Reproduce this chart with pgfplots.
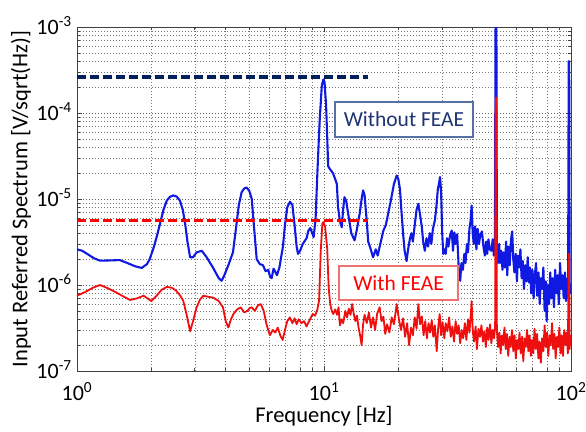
\documentclass[border=0pt]{standalone}
\usepackage{fontspec}
\setmainfont{Carlito}
\usepackage{pgfplots}
\pgfplotsset{compat=1.18}
\definecolor{navy}{RGB}{0,32,96}
\definecolor{txtnavy}{RGB}{31,52,115}
\definecolor{boxblue}{RGB}{85,112,165}
\definecolor{boxred}{RGB}{240,115,115}
\definecolor{gridc}{RGB}{95,95,95}
\definecolor{cblue}{RGB}{15,25,225}
\definecolor{cred}{RGB}{240,15,15}
\begin{document}
\begin{tikzpicture}
\path[use as bounding box] (-77pt,-60pt) rectangle (509pt,371pt);
\begin{axis}[
  at={(0pt,0pt)}, anchor=south west,
  scale only axis, width=494pt, height=344pt,
  xmode=log, ymode=log,
  xmin=1, xmax=100, ymin=1e-7, ymax=1e-3,
  xtick={1,10,100},
  xticklabels={10\textsuperscript{0},10\textsuperscript{1},10\textsuperscript{2}},
  ytick={1e-7,1e-6,1e-5,1e-4,1e-3},
  yticklabels={10\textsuperscript{-7},10\textsuperscript{-6},10\textsuperscript{-5},10\textsuperscript{-4},10\textsuperscript{-3}},
  minor xtick={2,3,4,5,6,7,8,9,20,30,40,50,60,70,80,90},
  minor ytick={2e-7,3e-7,4e-7,5e-7,6e-7,7e-7,8e-7,9e-7,2e-6,3e-6,4e-6,5e-6,6e-6,7e-6,8e-6,9e-6,2e-5,3e-5,4e-5,5e-5,6e-5,7e-5,8e-5,9e-5,2e-4,3e-4,4e-4,5e-4,6e-4,7e-4,8e-4,9e-4},
  grid=both,
  major grid style={gridc, line width=0.7pt, dash pattern=on 1pt off 2pt},
  minor grid style={gridc!85, line width=0.6pt, dash pattern=on 1pt off 2pt},
  axis line style={black!75, line width=0.9pt},
  tick align=inside,
  major tick length=5pt, minor tick length=3pt,
  tick style={black!75, line width=0.7pt},
  xticklabel style={font=\fontsize{22}{24}\selectfont, anchor=base, yshift=-29.5pt, inner sep=0pt},
  yticklabel style={font=\fontsize{22}{24}\selectfont, anchor=base east, yshift=-7pt, xshift=-5pt, inner sep=0pt},
  xlabel={Frequency [Hz]},
  ylabel={Input Referred Spectrum [V/sqrt(Hz)]},
  every axis x label/.style={at={(axis description cs:0.5,0)}, anchor=base, yshift=-51.5pt, inner sep=0pt, font=\fontsize{22.5}{26}\selectfont},
  every axis y label/.style={at={(axis description cs:0,0.5)}, xshift=-56pt, rotate=90, anchor=center, inner sep=0pt, font=\fontsize{22.5}{26}\selectfont},
  clip=true,
]
% Without FEAE (blue)
\addplot[cblue, line width=2.1pt, line join=round] table {
1.00 2.6e-6
1.05 2.5e-6
1.10 2.3e-6
1.17 2.05e-6
1.24 1.92e-6
1.35 1.93e-6
1.49 1.95e-6
1.60 1.8e-6
1.72 1.65e-6
1.83 1.58e-6
1.92 1.75e-6
1.97 2.0e-6
2.05 2.8e-6
2.10 3.6e-6
2.17 5.2e-6
2.24 7.5e-6
2.31 9.6e-6
2.38 1.06e-5
2.45 1.1e-5
2.53 1.07e-5
2.61 9.6e-6
2.68 7.5e-6
2.74 5.2e-6
2.80 3.2e-6
2.87 2.1e-6
2.95 2.1e-6
3.05 2.4e-6
3.20 2.5e-6
3.35 2.1e-6
3.55 1.6e-6
3.75 1.2e-6
3.85 1.12e-6
3.95 1.3e-6
4.10 1.7e-6
4.28 2.4e-6
4.40 4.5e-6
4.52 8.5e-6
4.64 1.2e-5
4.76 1.33e-5
4.86 1.36e-5
4.98 1.25e-5
5.10 1.0e-5
5.20 5e-6
5.34 2.0e-6
5.50 1.75e-6
5.66 1.7e-6
5.80 1.45e-6
5.95 1.5e-6
6.05 1.25e-6
6.14 1.2e-6
6.25 1.55e-6
6.33 1.45e-6
6.45 1.3e-6
6.60 1.6e-6
6.82 2.8e-6
6.95 5e-6
7.10 8e-6
7.28 9.3e-6
7.45 8.5e-6
7.60 5e-6
7.75 2.8e-6
7.85 2.3e-6
8.00 2.5e-6
8.20 3.0e-6
8.50 3.5e-6
8.65 4.3e-6
8.80 4.6e-6
9.08 3.6e-6
9.25 6e-6
9.40 2e-5
9.60 8e-5
9.80 2.1e-4
9.94 2.45e-4
10.05 2.3e-4
10.20 1.2e-4
10.40 2.4e-5
10.60 2.2e-5
10.87 2.0e-5
11.10 1.7e-5
11.27 1.5e-5
11.40 8e-6
11.60 5.5e-6
11.80 4.7e-6
11.95 7.5e-6
12.10 1.05e-5
12.30 9.5e-6
12.50 7e-6
12.90 4e-6
13.30 3.3e-6
13.60 4.5e-6
13.95 6.8e-6
14.20 1.0e-5
14.40 1.26e-5
14.60 1.1e-5
14.90 5.5e-6
15.10 3.2e-6
15.40 2.7e-6
15.80 2.1e-6
16.20 2.6e-6
16.50 2.2e-6
16.90 3.0e-6
17.40 4.3e-6
17.80 5e-6
18.20 6.8e-6
18.70 1.0e-5
19.20 1.5e-5
19.70 1.88e-5
20.00 1.7e-5
20.30 1.3e-5
20.60 7e-6
20.90 4e-6
21.20 2.5e-6
21.60 1.9e-6
21.90 2.6e-6
22.30 3.5e-6
22.60 4e-6
22.90 3.2e-6
23.30 5e-6
23.70 7.5e-6
24.10 8.8e-6
24.50 6.5e-6
24.90 4.7e-6
25.20 3.2e-6
25.60 2.5e-6
26.00 3.5e-6
26.40 2.8e-6
26.80 4e-6
27.20 3e-6
27.60 4.5e-6
28.10 5.6e-6
28.50 8e-6
28.90 1.3e-5
29.20 1.5e-5
29.50 1.8e-5
29.80 1.2e-5
30.10 4e-6
30.40 2.3e-6
30.80 2.6e-6
31.10 2.3e-6
31.50 3.5e-6
31.90 2.8e-6
32.40 3.8e-6
32.90 4.3e-6
33.30 2.5e-6
33.70 4.1e-6
34.10 3e-6
34.60 3.9e-6
35.10 1.6e-6
35.60 1.12e-6
36.00 1.8e-6
36.50 1.5e-6
37.00 2.3e-6
37.40 1.8e-6
37.90 3e-6
38.30 2.4e-6
38.80 4.5e-6
39.20 5.5e-6
39.60 8.4e-6
40.00 4e-6
40.40 3e-6
40.90 4.8e-6
41.40 2.6e-6
41.90 4.5e-6
42.40 3e-6
42.90 3.8e-6
43.60 4.2e-6
44.20 2.8e-6
44.80 2.2e-6
45.30 3.2e-6
45.80 2.3e-6
46.30 3.4e-6
46.90 2.6e-6
47.60 2.5e-6
48.20 3.4e-6
48.70 2.2e-6
49.20 3e-6
49.55 3e-3
49.85 3e-3
50.10 2.6e-6
50.60 1.8e-6
51.20 3e-6
51.60 1.8e-6
52.20 2.5e-6
52.80 1.5e-6
53.40 2.4e-6
54.00 1.6e-6
54.60 3.2e-6
55.20 1.3e-6
55.80 2.8e-6
56.50 1.7e-6
57.20 3.4e-6
57.80 4.2e-6
58.40 2e-6
59.00 1.4e-6
59.70 2.3e-6
60.40 1.1e-6
61.00 2.2e-6
61.70 1.6e-6
62.40 2.6e-6
63.10 1.2e-6
63.80 1.9e-6
64.50 0.9e-6
65.30 1.7e-6
66.00 1.1e-6
66.80 2.1e-6
67.50 1.07e-6
68.30 1.6e-6
69.00 0.8e-6
69.80 1.5e-6
70.60 0.7e-6
71.40 1.3e-6
72.20 1.8e-6
73.00 0.75e-6
73.90 1.4e-6
74.70 0.6e-6
75.60 1.2e-6
76.40 0.9e-6
77.30 1.6e-6
78.20 0.5e-6
79.10 1.1e-6
79.70 0.38e-6
80.60 1.0e-6
81.50 0.6e-6
82.40 1.4e-6
83.40 0.7e-6
84.30 1.2e-6
85.30 0.55e-6
86.30 1.5e-6
87.30 0.8e-6
88.30 1.3e-6
89.30 0.6e-6
90.30 1.8e-6
91.30 0.9e-6
92.40 1.3e-6
93.40 0.7e-6
94.50 1.4e-6
95.50 0.65e-6
96.60 1.2e-6
97.30 0.7e-6
97.90 4e-4
98.30 4e-4
98.70 1.1e-6
99.30 0.8e-6
100.00 1.0e-6
};
% With FEAE (red)
\addplot[cred, line width=1.8pt, line join=round] table {
1.00 7.5e-7
1.08 8.3e-7
1.16 9.3e-7
1.24 1.0e-6
1.33 9.2e-7
1.44 8.2e-7
1.55 7.3e-7
1.64 6.7e-7
1.75 7.0e-7
1.86 7.5e-7
1.93 7.0e-7
2.00 6.5e-7
2.10 7.5e-7
2.20 8.8e-7
2.31 9.5e-7
2.42 9.3e-7
2.52 8.6e-7
2.62 7.5e-7
2.69 6.6e-7
2.78 4.5e-7
2.87 2.9e-7
2.95 3.8e-7
3.05 5.5e-7
3.15 6.8e-7
3.25 7.5e-7
3.40 7.3e-7
3.57 7.1e-7
3.75 6.5e-7
3.90 5.5e-7
4.00 3.8e-7
4.10 3.2e-7
4.20 4.0e-7
4.30 4.6e-7
4.45 5.2e-7
4.60 5.5e-7
4.75 4.8e-7
4.90 5.0e-7
5.00 5.4e-7
5.10 5.5e-7
5.25 5.0e-7
5.40 5.8e-7
5.55 6.0e-7
5.70 5.0e-7
5.85 3.5e-7
6.04 2.6e-7
6.20 3.0e-7
6.35 2.8e-7
6.50 3.2e-7
6.65 2.6e-7
6.80 2.3e-7
6.95 3.0e-7
7.10 3.8e-7
7.28 4.2e-7
7.45 3.6e-7
7.60 4.1e-7
7.75 3.5e-7
7.90 4.0e-7
8.10 3.6e-7
8.30 3.8e-7
8.50 3.3e-7
8.70 3.8e-7
9.00 4.6e-7
9.20 4.4e-7
9.40 5.2e-7
9.55 6.5e-7
9.70 2.5e-6
9.85 5.2e-6
9.95 5.4e-6
10.10 4.8e-6
10.30 2.7e-6
10.45 9e-7
10.60 6e-7
10.75 5e-7
10.90 4.6e-7
11.10 5.2e-7
11.30 4.5e-7
11.45 5.5e-7
11.60 3.4e-7
11.80 4e-7
11.96 3.6e-7
12.20 5e-7
12.40 4.2e-7
12.60 5.3e-7
12.80 4.5e-7
13.00 6e-7
13.20 4.6e-7
13.40 3.8e-7
13.60 4.4e-7
13.80 3.2e-7
14.00 2.6e-7
14.20 2.0e-7
14.40 3.5e-7
14.60 4.5e-7
14.90 3.6e-7
15.20 4.8e-7
15.50 3.2e-7
15.80 4.2e-7
16.10 3e-7
16.40 4.6e-7
16.80 5.5e-7
17.10 3.8e-7
17.40 4.3e-7
17.70 2.7e-7
18.00 3.5e-7
18.40 2.8e-7
18.80 4.2e-7
19.20 3.5e-7
19.70 6e-7
20.10 4e-7
20.50 3e-7
20.90 4.1e-7
21.30 2.5e-7
21.70 3.6e-7
22.10 2.0e-7
22.50 3.2e-7
22.90 2.6e-7
23.30 4.2e-7
23.70 3.1e-7
24.10 6e-7
24.50 3.5e-7
24.90 4.3e-7
25.30 2.6e-7
25.70 3.8e-7
26.10 2.4e-7
26.50 3.6e-7
26.90 2.8e-7
27.30 3.9e-7
27.70 2.5e-7
28.10 3.4e-7
28.60 1.7e-7
29.00 3.2e-7
29.40 4.6e-7
29.80 2.6e-7
30.20 3.7e-7
30.70 2.4e-7
31.10 3.6e-7
31.60 2.9e-7
32.10 4.2e-7
32.60 2.5e-7
33.10 3.3e-7
33.60 2.2e-7
34.10 3.8e-7
34.60 2.7e-7
35.10 3.4e-7
35.60 2.1e-7
36.10 3.0e-7
36.60 2.4e-7
37.20 3.6e-7
37.70 2.3e-7
38.30 4.0e-7
38.80 2.8e-7
39.30 4.5e-7
39.60 6.5e-7
40.00 3.0e-7
40.50 2.2e-7
41.10 3.3e-7
41.60 1.8e-7
42.20 3.1e-7
42.80 2.5e-7
43.40 3.4e-7
44.00 2.2e-7
44.60 2.9e-7
45.20 1.9e-7
45.80 3.2e-7
46.40 2.3e-7
47.00 3.5e-7
47.60 2.1e-7
48.20 3.0e-7
48.80 2.4e-7
49.30 3.3e-7
49.55 1.5e-4
49.85 1.5e-4
50.10 3.0e-7
50.70 1.9e-7
51.30 2.8e-7
51.90 1.6e-7
52.50 2.6e-7
53.10 2.0e-7
53.80 3.2e-7
54.40 1.8e-7
55.00 2.7e-7
55.70 1.5e-7
56.40 2.5e-7
57.00 1.9e-7
57.70 3.0e-7
58.40 1.7e-7
59.10 2.6e-7
59.80 1.4e-7
60.50 2.3e-7
61.20 1.8e-7
61.90 2.8e-7
62.60 1.6e-7
63.40 2.5e-7
64.10 1.3e-7
64.90 2.4e-7
65.60 1.9e-7
66.40 3.0e-7
67.20 1.7e-7
68.00 2.6e-7
68.80 1.5e-7
69.60 2.3e-7
70.40 1.6e-7
71.20 3.1e-7
72.10 1.8e-7
72.90 2.7e-7
73.80 1.4e-7
74.60 2.2e-7
75.50 1.25e-7
76.40 2.4e-7
77.30 1.7e-7
78.20 3.4e-7
79.10 1.9e-7
80.00 2.8e-7
80.90 1.5e-7
81.90 2.6e-7
82.80 2.0e-7
83.80 3.6e-7
84.70 1.8e-7
85.70 2.7e-7
86.70 1.4e-7
87.70 2.5e-7
88.70 1.9e-7
89.70 3.2e-7
90.70 1.6e-7
91.80 2.6e-7
92.80 1.5e-7
93.90 3.0e-7
94.90 2.0e-7
96.00 2.8e-7
97.10 1.6e-7
97.90 2.3e-6
98.30 2.3e-6
98.70 1.8e-7
99.30 2.6e-7
100.00 2.0e-7
};
% reference levels
\addplot[navy, line width=3.1pt, dash pattern=on 9pt off 4pt] coordinates {(1,2.62e-4) (15.1,2.62e-4)};
\addplot[red, line width=3.1pt, dash pattern=on 9pt off 4pt] coordinates {(1,5.6e-6) (15.1,5.6e-6)};
\node[draw=boxblue, line width=1.2pt, fill=white, minimum width=138pt, minimum height=35pt, inner sep=0pt, text=txtnavy, font=\fontsize{21.5}{24}\selectfont] at (axis description cs:0.662,0.731) {Without FEAE};
\node[draw=boxred, line width=1.2pt, fill=white, minimum width=119pt, minimum height=34pt, inner sep=0pt, text=red, font=\fontsize{21.5}{24}\selectfont] at (axis description cs:0.651,0.256) {With FEAE};
\end{axis}
\end{tikzpicture}
\end{document}
